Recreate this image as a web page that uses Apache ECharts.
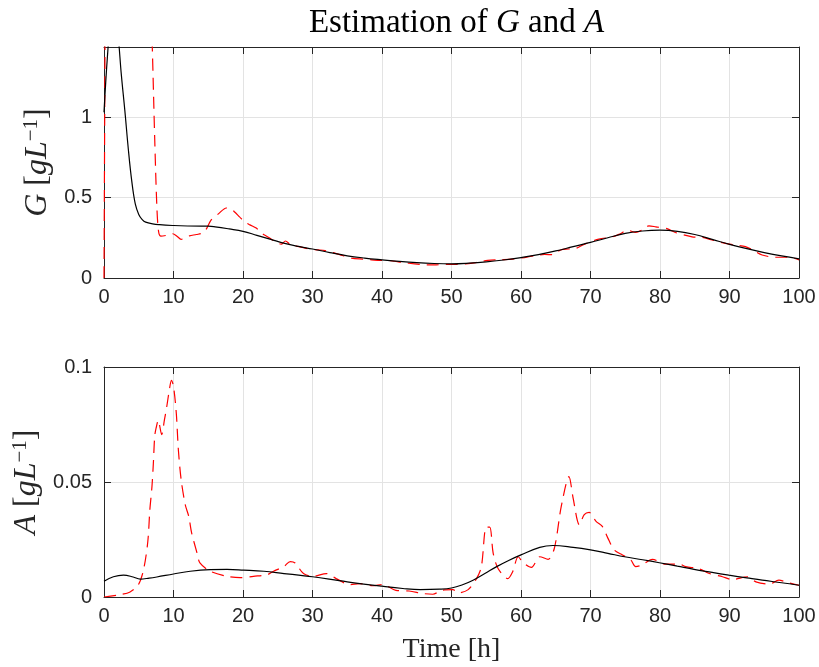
<!DOCTYPE html>
<html>
<head>
<meta charset="utf-8">
<script src="https://cdn.jsdelivr.net/npm/echarts@6/dist/echarts.min.js"></script>
<style>
html,body{margin:0;padding:0;background:#fff;}
#chart{width:819px;height:667px;}
</style>
</head>
<body>
<div id="chart"></div>
<script>
// ---- data: [time (h), value] ----
var xTicks = [0, 10, 20, 30, 40, 50, 60, 70, 80, 90, 100];
var gTickValues = [0, 0.5, 1];
var aTickValues = [0, 0.05, 0.1];

var gEstimate = [[0,1.03],[0.5,1.38],[1,1.62],[1.5,1.68],[2,1.52],[2.5,1.26],[3,1.04],[3.5,0.8],[4,0.6],[4.5,0.46],[5,0.395],[5.5,0.363],[6,0.347],[7,0.336],[8,0.331],[10,0.326],[12,0.323],[14,0.322],[15,0.322],[16,0.318],[18,0.305],[20,0.29],[22,0.265],[24,0.24],[26,0.215],[28,0.196],[30,0.18],[32.5,0.158],[35,0.138],[37.5,0.124],[40,0.113],[42.5,0.103],[45,0.095],[47.5,0.09],[50,0.088],[52.5,0.092],[55,0.1],[57.5,0.112],[60,0.127],[62.5,0.145],[65,0.168],[67.5,0.195],[70,0.221],[72.5,0.25],[75,0.277],[77.5,0.292],[80,0.297],[82.5,0.29],[85,0.27],[87.5,0.24],[90,0.209],[92.5,0.182],[95,0.158],[97.5,0.137],[100,0.119]];

var gMeasured = [[0,0],[0.05,0.5],[0.12,1.2],[0.2,2.0],[0.5,3.0],[2,3.5],[4,3.2],[6,2.4],[6.8,1.6],[6.95,1.43],[7.3,0.86],[7.6,0.45],[7.85,0.29],[8.2,0.26],[9,0.265],[9.9,0.275],[10.5,0.26],[11.1,0.24],[11.7,0.25],[12.3,0.262],[13.3,0.27],[14.2,0.28],[14.8,0.31],[15.4,0.36],[16.5,0.4],[17.6,0.435],[18.2,0.43],[18.8,0.41],[19.5,0.38],[20.2,0.35],[21,0.33],[21.9,0.31],[22.6,0.28],[23.4,0.26],[24.5,0.23],[25.5,0.21],[26.1,0.23],[26.9,0.205],[28,0.195],[29.6,0.18],[30.8,0.175],[31.8,0.17],[33,0.158],[34.3,0.14],[35.6,0.123],[37.3,0.117],[38.5,0.113],[39.7,0.109],[40.6,0.11],[41.8,0.104],[43,0.096],[44.7,0.088],[46.4,0.082],[47.8,0.082],[49.3,0.085],[50.7,0.084],[52,0.088],[53.5,0.096],[55.2,0.109],[56.9,0.113],[58.8,0.117],[60.5,0.127],[62.2,0.141],[63.4,0.146],[64.5,0.145],[65.7,0.174],[66.8,0.18],[67.9,0.184],[68.9,0.205],[70,0.225],[71.2,0.242],[73.2,0.256],[74.3,0.275],[75.3,0.297],[76.5,0.283],[77.5,0.3],[78.4,0.324],[79.4,0.318],[81,0.307],[82.2,0.283],[83.4,0.268],[84.6,0.256],[86.1,0.252],[87.5,0.236],[89.4,0.215],[90.8,0.205],[92.3,0.195],[93.5,0.17],[94.7,0.143],[96.6,0.129],[98.5,0.129],[100,0.113]];

var aEstimate = [[0,0.0068],[1.35,0.0088],[2.8,0.0095],[4.2,0.0087],[5.2,0.0078],[6.5,0.0082],[7.6,0.0087],[10,0.01],[12.4,0.0112],[15.3,0.0119],[17.7,0.012],[20.1,0.0117],[23,0.0112],[25.9,0.0102],[28.3,0.0094],[30,0.0088],[35,0.0066],[40,0.0047],[43,0.0037],[45.5,0.0032],[48.3,0.0034],[50,0.0039],[51.5,0.0052],[53.1,0.0073],[54.8,0.0102],[56.5,0.0132],[58.3,0.016],[60,0.0183],[62.7,0.0216],[64.6,0.0224],[67.5,0.0216],[70,0.0205],[72.5,0.019],[74.9,0.0175],[77.5,0.0162],[79.9,0.0149],[82.5,0.0134],[84.9,0.012],[87.5,0.0107],[89.9,0.0095],[92.5,0.0083],[94.7,0.0073],[97.5,0.0062],[100,0.0051]];

var aMeasured = [[0,0],[2.1,0.0009],[3.75,0.0022],[4.95,0.0054],[5.7,0.012],[6.3,0.024],[6.6,0.038],[6.9,0.048],[7.1,0.058],[7.3,0.07],[7.5,0.0735],[7.8,0.0768],[8.3,0.0706],[8.7,0.0771],[9.0,0.0822],[9.4,0.09],[9.7,0.0942],[10,0.0916],[10.4,0.08],[10.7,0.064],[11.1,0.051],[11.7,0.04],[12.2,0.035],[12.6,0.028],[13.4,0.019],[13.8,0.0148],[15.3,0.0112],[17.7,0.009],[19.6,0.0084],[21.5,0.009],[23.5,0.0097],[24.4,0.0112],[25.9,0.0133],[26.8,0.0154],[27.5,0.0148],[28.7,0.0102],[30.1,0.009],[32,0.0102],[33.4,0.008],[35.4,0.0054],[36.8,0.0058],[38.7,0.0049],[40.1,0.0054],[42,0.0029],[43.9,0.0026],[45.9,0.0015],[47.3,0.0012],[48.6,0.0029],[50.2,0.0032],[51,0.0018],[52.4,0.0032],[53.6,0.008],[54.3,0.0132],[55.0,0.0304],[55.5,0.0304],[56,0.019],[56.7,0.0124],[58.1,0.008],[58.8,0.011],[59.6,0.0175],[60.3,0.015],[61.5,0.0129],[62.7,0.0175],[63.9,0.0164],[64.8,0.0212],[65.8,0.0395],[66.9,0.0523],[67.5,0.043],[68.4,0.0314],[69.1,0.0358],[69.8,0.0368],[70.8,0.0329],[71.7,0.0307],[72.5,0.0256],[73.4,0.0205],[74.6,0.0183],[75.8,0.0161],[76.5,0.0132],[77.4,0.0139],[78.9,0.0164],[80.8,0.0143],[82.8,0.0143],[83.7,0.0132],[85.6,0.0123],[87.1,0.0102],[89,0.0088],[90.4,0.0076],[92.6,0.0088],[93.8,0.0066],[95.7,0.0056],[97.1,0.0073],[98.6,0.0061],[100,0.0051]];

// ---- styling ----
var AX = '#262626';
var GRIDC = '#e3e3e3';
var SANS = '"Liberation Sans", Arial, Helvetica, sans-serif';
var SERIF = '"Liberation Serif", "Times New Roman", serif';

function inList(list, v) {
  for (var i = 0; i < list.length; i++) { if (Math.abs(list[i] - v) < 1e-9) return true; }
  return false;
}

function xAx(grid, pos, labels, name) {
  return {
    type: 'value', gridIndex: grid, position: pos, min: 0, max: 100, interval: 10,
    axisLine: {show: true, onZero: false, lineStyle: {color: AX, width: 1}},
    axisTick: {show: true, inside: true, length: 7, lineStyle: {color: AX}},
    axisLabel: {show: labels, color: AX, fontFamily: SANS, fontSize: 20, margin: 9,
      formatter: function (v) { return inList(xTicks, v) ? String(v) : ''; }},
    splitLine: {show: pos === 'bottom', lineStyle: {color: GRIDC, width: 1}},
    name: name || '', nameLocation: 'middle', nameGap: 39,
    nameTextStyle: {fontFamily: SERIF, fontSize: 28, color: AX, fontWeight: 'normal'}
  };
}

function yAx(grid, pos, max, ticks, labels, name, gap) {
  return {
    type: 'value', gridIndex: grid, position: pos, min: 0, max: max, interval: ticks[1],
    axisLine: {show: true, onZero: false, lineStyle: {color: AX, width: 1}},
    axisTick: {show: true, inside: true, length: 7, lineStyle: {color: AX}},
    axisLabel: {show: labels, color: AX, fontFamily: SANS, fontSize: 20, margin: 12,
      showMaxLabel: inList(ticks, max),
      formatter: function (v) { return inList(ticks, v) ? String(v) : ''; }},
    splitLine: {show: pos === 'left', lineStyle: {color: GRIDC, width: 1}},
    name: name || '', nameLocation: 'middle', nameGap: gap || 40, nameRotate: 90,
    nameTextStyle: {fontFamily: SERIF, fontSize: 32, color: AX,
      rich: {
        i: {fontFamily: SERIF, fontSize: 32, fontStyle: 'italic', color: AX},
        r: {fontFamily: SERIF, fontSize: 32, color: AX},
        s: {fontFamily: SERIF, fontSize: 21, color: AX, verticalAlign: 'top'}
      }}
  };
}

var chart = echarts.init(document.getElementById('chart'), null, {renderer: 'canvas'});

var option = {
  animation: false,
  backgroundColor: '#ffffff',
  title: {
    text: '{r|Estimation of }{i|G}{r| and }{i|A}',
    left: 451.5, top: 2, textAlign: 'center',
    textStyle: {
      fontWeight: 'normal',
      rich: {
        r: {fontFamily: SERIF, fontSize: 33, fontWeight: 'normal', color: '#000'},
        i: {fontFamily: SERIF, fontSize: 33, fontWeight: 'normal', fontStyle: 'italic', color: '#000'}
      }
    }
  },
  grid: [
    {left: 104, top: 47, width: 695, height: 231},
    {left: 104, top: 367, width: 695, height: 230}
  ],
  xAxis: [
    xAx(0, 'bottom', true),
    xAx(0, 'top', false),
    xAx(1, 'bottom', true, 'Time [h]'),
    xAx(1, 'top', false)
  ],
  yAxis: [
    yAx(0, 'left', 1.435, gTickValues, true, '{i|G}{r| [}{i|gL}{s|−1}{r|]}', 42),
    yAx(0, 'right', 1.435, gTickValues, false),
    yAx(1, 'left', 0.1, aTickValues, true, '{i|A}{r| [}{i|gL}{s|−1}{r|]}', 42),
    yAx(1, 'right', 0.1, aTickValues, false)
  ],
  series: [
    {type: 'line', xAxisIndex: 0, yAxisIndex: 0, data: gMeasured, showSymbol: false, smooth: 0.3, clip: true,
      lineStyle: {color: '#ff0000', width: 1.2, type: [12, 7]}, z: 3},
    {type: 'line', xAxisIndex: 0, yAxisIndex: 0, data: gEstimate, showSymbol: false, smooth: 0.4, clip: true,
      lineStyle: {color: '#000000', width: 1.2}, z: 4},
    {type: 'line', xAxisIndex: 2, yAxisIndex: 2, data: aMeasured, showSymbol: false, smooth: 0.3, clip: true,
      lineStyle: {color: '#ff0000', width: 1.2, type: [12, 7]}, z: 3},
    {type: 'line', xAxisIndex: 2, yAxisIndex: 2, data: aEstimate, showSymbol: false, smooth: 0.4, clip: true,
      lineStyle: {color: '#000000', width: 1.2}, z: 4}
  ]
};
chart.setOption(option);
</script>
</body>
</html>
